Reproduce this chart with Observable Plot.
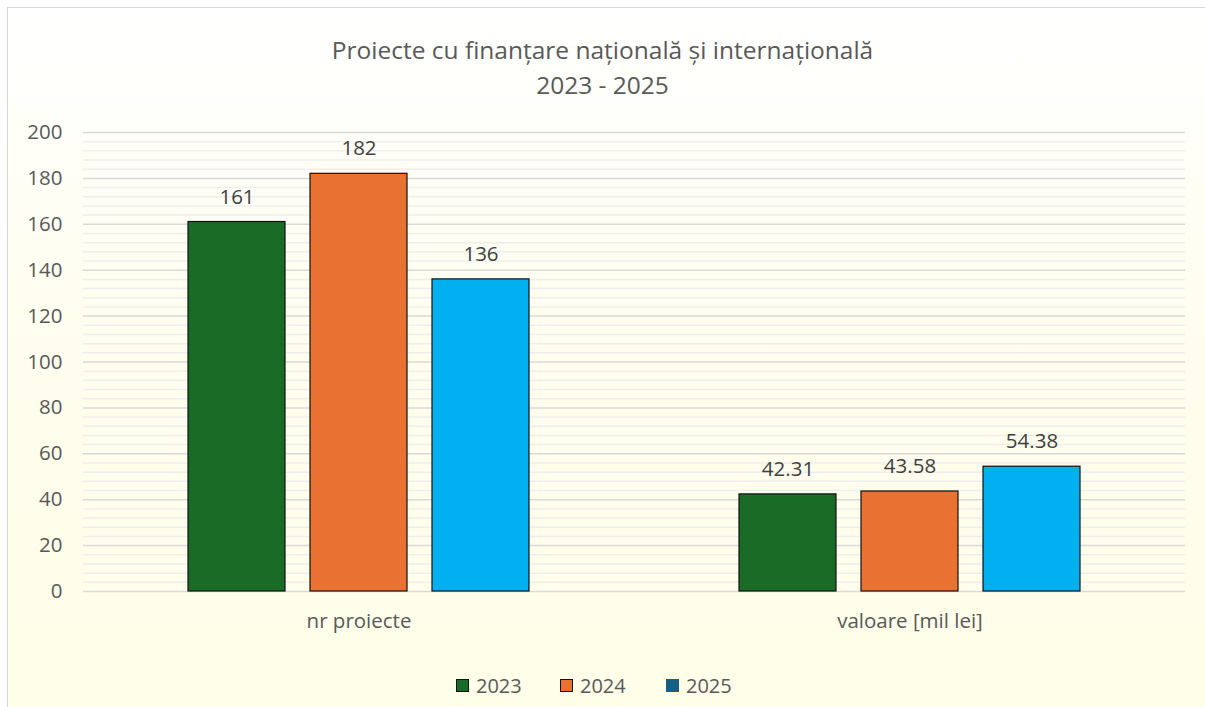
<!DOCTYPE html>
<html>
<head>
<meta charset="utf-8">
<script src="https://cdn.jsdelivr.net/npm/d3@7"></script>
<script src="https://cdn.jsdelivr.net/npm/@observablehq/plot@0.6"></script>
<style>
  html, body { margin: 0; padding: 0; background: #ffffff; }
  #page { position: relative; width: 1205px; height: 707px; overflow: hidden; font-family: "Open Sans", sans-serif; }
  #frame { position: absolute; left: 7px; top: 7px; width: 1198px; height: 700px;
    border-left: 1.5px solid #D6D6D6; border-top: 1.5px solid #D6D6D6; box-sizing: border-box;
    background: linear-gradient(#FFFFFF 0%, #FFFEEF 45%, #FFFEE8 100%); }
  #title { position: absolute; left: 0; top: 0; width: 1205px; height: 110px; text-align: center; color: #595959; font-size: 24.5px; line-height: 30px; }
  #title .l1 { position: absolute; left: 0; right: 0; top: 35px; }
  #title .l2 { position: absolute; left: 0; right: 0; top: 70px; }
  #chart { position: absolute; left: 0; top: 110px; }
  #legend { position: absolute; left: 0; top: 660px; width: 1205px; height: 47px; }
  .item { position: absolute; top: 12px; display: flex; align-items: center; color: #595959; font-size: 20px; }
  .sw { width: 13px; height: 13px; box-sizing: border-box; margin-right: 7px; }
</style>
</head>
<body>
<div id="page">
  <div id="frame"></div>
  <div id="title"><div class="l1">Proiecte cu finanțare națională și internațională</div><div class="l2">2023 - 2025</div></div>
  <div id="chart"></div>
  <div id="legend"></div>
</div>
<script>
const categories = ["nr proiecte", "valoare [mil lei]"];
const years = ["2023", "2024", "2025"];
const nrProiecte = [161, 182, 136];
const valoare = [42.31, 43.58, 54.38];
const barColors = ["#1A6B25", "#E97132", "#00B0F0"];
const legendColors = ["#1A6B25", "#E97132", "#156082"];
const yTicks = d3.range(0, 201, 20);
const yMinor = d3.range(0, 201, 4).filter(v => v % 20 !== 0);

const data = [];
years.forEach((y, i) => data.push({cat: categories[0], year: y, value: nrProiecte[i]}));
years.forEach((y, i) => data.push({cat: categories[1], year: y, value: valoare[i]}));

const chart = Plot.plot({
  width: 1205,
  height: 550,
  marginLeft: 83,
  marginRight: 20,
  marginTop: 22,
  marginBottom: 69,
  style: {background: "transparent", fontFamily: "'Open Sans', sans-serif", fontSize: "20.5px", color: "#595959"},
  fx: {domain: categories, padding: 0, label: null, axis: "bottom", tickSize: 0, tickPadding: 22},
  x: {domain: years, paddingInner: 0.205, paddingOuter: 0.86, axis: null},
  y: {domain: [0, 200], ticks: yTicks, label: null, tickSize: 0, tickPadding: 21},
  color: {domain: years, range: barColors},
  marks: [
    Plot.ruleY(yMinor, {stroke: "#EEEEEE", strokeWidth: 1.5}),
    Plot.ruleY(yTicks, {stroke: "#D9D9D9", strokeWidth: 1.5}),
    Plot.barY(data, {fx: "cat", x: "year", y: "value", fill: "year", stroke: "#111111", strokeWidth: 1.2}),
    Plot.text(data, {fx: "cat", x: "year", y: "value", text: d => String(d.value), dy: -25, fill: "#404040", fontSize: 20.5})
  ]
});
document.getElementById("chart").appendChild(chart);

const legend = document.getElementById("legend");
const lx = [456, 560, 666];
years.forEach((y, i) => {
  const it = document.createElement("div");
  it.className = "item";
  it.style.left = lx[i] + "px";
  const sw = document.createElement("div");
  sw.className = "sw";
  sw.style.background = legendColors[i];
  if (i < 2) sw.style.border = "1.5px solid #111";
  it.appendChild(sw);
  const tx = document.createElement("span");
  tx.textContent = y;
  it.appendChild(tx);
  legend.appendChild(it);
});
</script>
</body>
</html>
